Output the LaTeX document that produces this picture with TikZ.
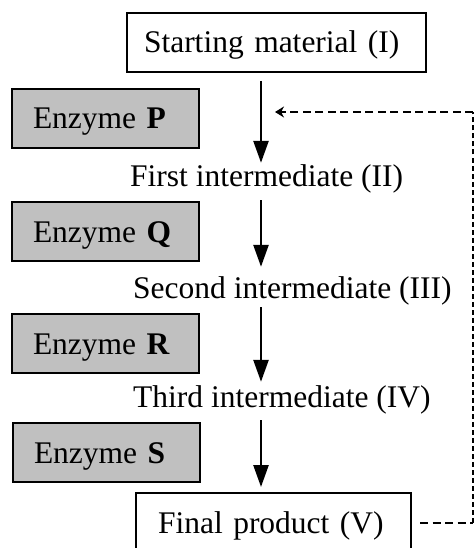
\documentclass[tikz,border=0pt]{standalone}
\usepackage{fontspec}
\setmainfont{Liberation Serif}
\usetikzlibrary{calc,arrows.meta}
\definecolor{enzgray}{RGB}{192,192,192}
\tikzset{
  box/.style={draw, line width=2pt, anchor=north west, inner xsep=17pt, inner ysep=0pt,
    text height=40pt, text depth=19pt, align=left},
  enz/.style={box, fill=enzgray, inner xsep=21pt, text width=145pt},
  mid/.style={anchor=base west, inner sep=0pt, text height=22pt, text depth=7pt},
  flow/.style={line width=2.5pt, -{Triangle[length=22pt,width=15pt]}},
  fb/.style={line width=2pt, dash pattern=on 8pt off 4.5pt},
}

\begin{document}
\begin{tikzpicture}[x=1pt,y=-1pt,font=\fontsize{31.5}{36}\selectfont]
    \clip (0,0) rectangle (475,548);
    \coordinate (spine) at (261,0);
    \coordinate (corner) at (473,0);

    \node[box, text width=265pt] (start) at (126,12) {Starting material (I)};
    \node[box, inner xsep=22pt, text width=231pt] (final) at (135,492) {Final product (V)};

    \foreach \n/\x/\y in {P/11/88, Q/11/201, R/11/313, S/12/422} {
      \node[enz] (enz\n) at (\x,\y) {Enzyme \textbf{\n}};
    }

    \node[mid] (first) at (130,186) {First intermediate (II)};
    \node[mid] (second) at (133,298) {Second intermediate (III)};
    \node[mid] (third) at (133,407.5) {Third intermediate (IV)};

    \foreach \a/\b/\s/\e in {start/first/8pt/1pt, first/second/7pt/9pt,
                             second/third/2pt/3.5pt, third/final/5.5pt/5pt} {
      \draw[flow, shorten <=\s, shorten >=\e] (\a.south -| spine) -- (\b.north -| spine);
    }

    % feedback from the product
    \coordinate (back) at (261,112);
    \draw[fb, shorten <=8pt] (final.east) -- (final.east -| corner);
    \draw[fb, line width=1.6pt, dash pattern=on 5pt off 3pt] (final.east -| corner) -- (corner |- back);
    \draw[fb, -{Stealth[length=9pt,width=11pt]}, shorten >=14pt] (corner |- back) -- (back);
\end{tikzpicture}
\end{document}
